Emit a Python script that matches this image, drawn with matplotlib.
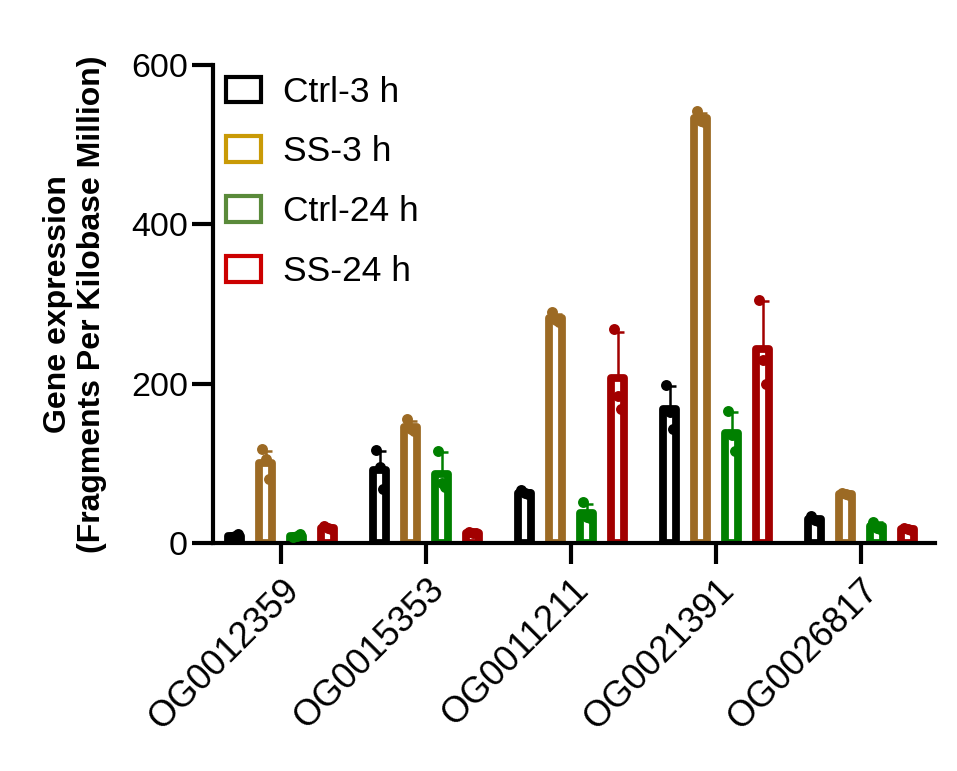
import matplotlib
matplotlib.use('Agg')
import matplotlib.pyplot as plt
from matplotlib.patches import Patch
import numpy as np

plt.rcParams['font.family'] = ['Liberation Sans', 'DejaVu Sans']

genes = ['OG0012359', 'OG0015353', 'OG0011211', 'OG0021391', 'OG0026817']
groups = ['Ctrl-3 h', 'SS-3 h', 'Ctrl-24 h', 'SS-24 h']

# bar heights (mean)
ctrl3_mean = [9, 92, 63, 168, 30]
ss3_mean = [100, 145, 282, 533, 61]
ctrl24_mean = [9, 86, 38, 138, 21]
ss24_mean = [19, 13, 207, 244, 17]

# upper error (SD)
ctrl3_sd = [1.5, 24, 3, 29, 3]
ss3_sd = [16, 8, 6, 7, 2]
ctrl24_sd = [1.5, 28, 11, 27, 5]
ss24_sd = [2, 1.5, 58, 60, 2]

# individual replicates
ctrl3_pts = [[8, 9, 11], [117, 95, 68], [66, 63, 61], [198, 165, 143], [34, 29, 28]]
ss3_pts = [[118, 106, 80], [156, 143, 140], [290, 280, 278], [542, 530, 528], [63, 61, 60]]
ctrl24_pts = [[8, 9, 11], [116, 75, 70], [51, 33, 31], [166, 135, 115], [27, 19, 18]]
ss24_pts = [[21, 19, 17], [14, 13, 12], [268, 185, 168], [305, 230, 200], [19, 17, 16]]

bar_colors = ['#000000', '#9C6A24', '#008000', '#A20000']
legend_colors = ['#000000', '#C99A06', '#5A8A3A', '#CC0000']

means = [ctrl3_mean, ss3_mean, ctrl24_mean, ss24_mean]
sds = [ctrl3_sd, ss3_sd, ctrl24_sd, ss24_sd]
pts = [ctrl3_pts, ss3_pts, ctrl24_pts, ss24_pts]

fig = plt.figure(figsize=(9.57, 7.71), dpi=100)
ax = fig.add_axes([0.2226, 0.2957, 0.977 - 0.2226, 0.9157 - 0.2957])

x = np.arange(len(genes))
step = 0.214
width = 0.093
jit = [-0.025, 0.0, 0.025]

for i in range(4):
    xi = x + (i - 1.5) * step
    col = bar_colors[i]
    ax.bar(xi, means[i], width=width, facecolor='white', edgecolor=col,
           linewidth=5.6, joinstyle='round', zorder=2)
    ax.errorbar(xi, means[i], yerr=[np.zeros(len(genes)), sds[i]], fmt='none',
                ecolor=col, elinewidth=1.8, capsize=4, capthick=1.8, zorder=3)
    for k in range(len(genes)):
        ax.scatter([xi[k] + j for j in jit], pts[i][k], s=62, color=col,
                   zorder=4, linewidths=0)

ax.set_xlim(-0.47, 4.51)
ax.set_ylim(0, 600)
ax.set_yticks([0, 200, 400, 600])
ax.set_xticks(x)
ax.set_xticklabels(genes, rotation=45, ha='right', rotation_mode='anchor')
ax.tick_params(axis='both', labelsize=24.5, width=3, length=15, color='black')
ax.tick_params(axis='x', labelsize=26, pad=6)
ax.tick_params(axis='y', pad=3)

for s in ['top', 'right']:
    ax.spines[s].set_visible(False)
for s in ['left', 'bottom']:
    ax.spines[s].set_linewidth(3)

ax.set_ylabel('Gene expression\n(Fragments Per Kilobase Million)',
              fontsize=23, fontweight='bold', labelpad=17, linespacing=1.2)

handles = [Patch(facecolor='white', edgecolor=c, linewidth=3) for c in legend_colors]
fig.legend(handles, groups, loc='upper left', bbox_to_anchor=(0.236, 0.902),
           frameon=False, fontsize=25.5, handlelength=0.98, handleheight=0.72,
           labelspacing=0.76, handletextpad=0.62, borderpad=0, borderaxespad=0)

fig.savefig('out.png', dpi=100)
